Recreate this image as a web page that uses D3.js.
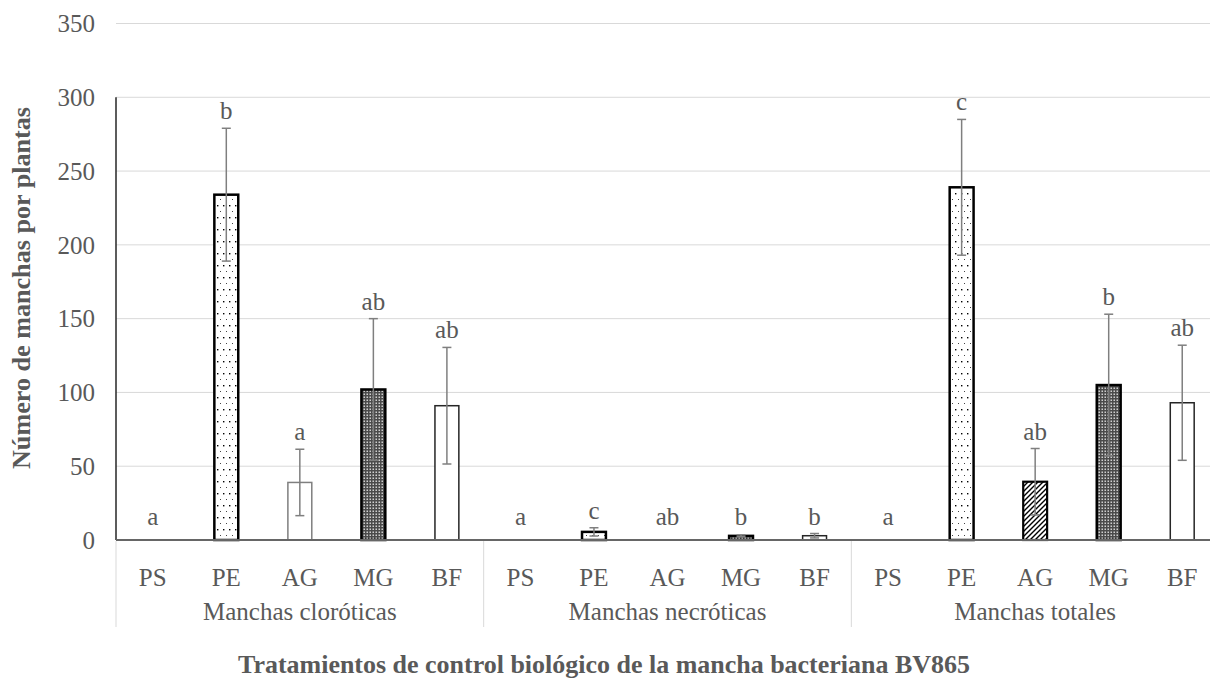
<!DOCTYPE html>
<html>
<head>
<meta charset="utf-8">
<script src="https://cdn.jsdelivr.net/npm/d3@7"></script>
<style>
  html, body { margin: 0; padding: 0; background: #fff; }
  svg { display: block; }
</style>
</head>
<body>
<svg id="chart" width="1210" height="679"></svg>
<script>
// ---------- DATA ----------
const groups = ["Manchas cloróticas", "Manchas necróticas", "Manchas totales"];
const treatments = ["PS", "PE", "AG", "MG", "BF"];
const cloroticas     = [0, 234, 39, 102, 91];
const cloroticasErr  = [0, 45, 22.5, 48, 39.5];
const necroticas     = [0, 5.5, 0, 2.8, 2.9];
const necroticasErr  = [0, 2.8, 0, 0.6, 1.5];
const totales        = [0, 239, 39.5, 105, 93];
const totalesErr     = [0, 46, 22.5, 48, 39];
const cloroticasLetters = ["a", "b", "a", "ab", "ab"];
const necroticasLetters = ["a", "c", "ab", "b", "b"];
const totalesLetters    = ["a", "c", "ab", "b", "ab"];
const yTicks = [0, 50, 100, 150, 200, 250, 300, 350];
const yTitle = "Número de manchas por plantas";
const xTitle = "Tratamientos de control biológico de la mancha bacteriana BV865";

// ---------- STYLES ----------
const groupStyles = [
  ["none", "dots", "plainGray", "dense", "plain"],
  ["none", "dots", "plainGray", "dense", "plain"],
  ["none", "dots", "hatch", "dense", "plain"]
];
const styleDefs = {
  none:      { fill: "none", stroke: "none", sw: 0 },
  dots:      { fill: "url(#pDots)", stroke: "#000", sw: 2.5 },
  plainGray: { fill: "#fff", stroke: "#7f7f7f", sw: 1.5 },
  dense:     { fill: "url(#pDense)", stroke: "#000", sw: 2.5 },
  hatch:     { fill: "url(#pHatch)", stroke: "#000", sw: 2.2 },
  plain:     { fill: "#fff", stroke: "#262626", sw: 1.5 }
};

const seriesVals = [cloroticas, necroticas, totales];
const seriesErr = [cloroticasErr, necroticasErr, totalesErr];
const seriesLetters = [cloroticasLetters, necroticasLetters, totalesLetters];

const rows = [];
groups.forEach((g, gi) => {
  treatments.forEach((t, ti) => {
    rows.push({
      key: gi + "-" + t, group: g, gi, t, ti,
      v: seriesVals[gi][ti], e: seriesErr[gi][ti],
      letter: seriesLetters[gi][ti], style: groupStyles[gi][ti]
    });
  });
});

// ---------- LAYOUT ----------
const svg = d3.select("#chart");
const plotLeft = 116, plotRight = 1219, plotTop = 23.5, plotBottom = 540;
const textColor = "#595959";
const font = "'Liberation Serif', 'Times New Roman', serif";
const fs = 25;

const x = d3.scaleBand().domain(rows.map(d => d.key)).range([plotLeft, plotRight]).padding(0);
const y = d3.scaleLinear().domain([0, 350]).range([plotBottom, plotTop]);
const barW = x.bandwidth() * 0.325;
const cx = d => x(d.key) + x.bandwidth() / 2;

// patterns
const defs = svg.append("defs");
const pd = defs.append("pattern").attr("id", "pDots").attr("patternUnits", "userSpaceOnUse")
  .attr("width", 6).attr("height", 12);
pd.append("rect").attr("width", 6).attr("height", 12).attr("fill", "#fff");
pd.append("rect").attr("x", 1).attr("y", 1).attr("width", 1.4).attr("height", 1.4).attr("fill", "#000");
pd.append("rect").attr("x", 4).attr("y", 7).attr("width", 1).attr("height", 1).attr("fill", "#444");

const pn = defs.append("pattern").attr("id", "pDense").attr("patternUnits", "userSpaceOnUse")
  .attr("width", 3).attr("height", 3);
pn.append("rect").attr("width", 3).attr("height", 3).attr("fill", "#4a4a4a");
pn.append("rect").attr("x", 0.5).attr("y", 0.5).attr("width", 1.5).attr("height", 1.5).attr("fill", "#cfcfcf");

const ph = defs.append("pattern").attr("id", "pHatch").attr("patternUnits", "userSpaceOnUse")
  .attr("width", 5).attr("height", 5);
ph.append("rect").attr("width", 5).attr("height", 5).attr("fill", "#fff");
ph.append("path").attr("d", "M-1,6 L6,-1 M-1,1 L1,-1 M4,6 L6,4")
  .attr("stroke", "#000").attr("stroke-width", 1.4);

// gridlines
svg.append("g").selectAll("line").data(yTicks.filter(t => t > 0)).join("line")
  .attr("x1", plotLeft).attr("x2", plotRight)
  .attr("y1", d => y(d)).attr("y2", d => y(d))
  .attr("stroke", "#d9d9d9").attr("stroke-width", 1);

// y tick labels
svg.append("g").selectAll("text").data(yTicks).join("text")
  .attr("x", 95).attr("y", d => y(d)).attr("dy", "0.35em")
  .attr("text-anchor", "end")
  .attr("font-family", font).attr("font-size", fs).attr("fill", textColor)
  .text(d => d);

// y axis line (0 to 300)
svg.append("line").attr("x1", plotLeft).attr("x2", plotLeft)
  .attr("y1", y(0)).attr("y2", y(300))
  .attr("stroke", "#262626").attr("stroke-width", 1.5);

// bars
svg.append("g").selectAll("rect").data(rows.filter(d => d.style !== "none")).join("rect")
  .attr("x", d => cx(d) - barW / 2)
  .attr("width", barW)
  .attr("y", d => y(d.v))
  .attr("height", d => y(0) - y(d.v))
  .attr("fill", d => styleDefs[d.style].fill)
  .attr("stroke", d => styleDefs[d.style].stroke)
  .attr("stroke-width", d => styleDefs[d.style].sw);

// x baseline
svg.append("line").attr("x1", plotLeft).attr("x2", plotRight)
  .attr("y1", y(0)).attr("y2", y(0))
  .attr("stroke", "#666").attr("stroke-width", 1.8);

// error bars
const eb = svg.append("g").attr("stroke", "#7f7f7f").attr("stroke-width", 1.5);
const ebRows = rows.filter(d => d.e > 0);
eb.selectAll("line.v").data(ebRows).join("line").attr("class", "v")
  .attr("x1", cx).attr("x2", cx)
  .attr("y1", d => y(d.v + d.e)).attr("y2", d => y(Math.max(0, d.v - d.e)));
eb.selectAll("line.t").data(ebRows).join("line").attr("class", "t")
  .attr("x1", d => cx(d) - 4.5).attr("x2", d => cx(d) + 4.5)
  .attr("y1", d => y(d.v + d.e)).attr("y2", d => y(d.v + d.e));
eb.selectAll("line.b").data(ebRows).join("line").attr("class", "b")
  .attr("x1", d => cx(d) - 4.5).attr("x2", d => cx(d) + 4.5)
  .attr("y1", d => y(Math.max(0, d.v - d.e))).attr("y2", d => y(Math.max(0, d.v - d.e)));

// letters
svg.append("g").selectAll("text").data(rows).join("text")
  .attr("x", cx)
  .attr("y", d => Math.min(y(d.v + d.e) - 9, y(0) - 15))
  .attr("text-anchor", "middle")
  .attr("font-family", font).attr("font-size", fs).attr("fill", textColor)
  .text(d => d.letter);

// category labels
svg.append("g").selectAll("text").data(rows).join("text")
  .attr("x", cx)
  .attr("y", 586)
  .attr("text-anchor", "middle")
  .attr("font-family", font).attr("font-size", fs).attr("fill", textColor)
  .text(d => d.t);

// group separators
const sepX = groups.map((g, gi) => x(gi + "-" + treatments[0]));
svg.append("g").selectAll("line").data(sepX).join("line")
  .attr("x1", d => d).attr("x2", d => d)
  .attr("y1", y(0) + 1).attr("y2", 627)
  .attr("stroke", "#d9d9d9").attr("stroke-width", 1);

// group labels
svg.append("g").selectAll("text").data(groups).join("text")
  .attr("x", (g, gi) => {
    const a = x(gi + "-" + treatments[0]);
    const b = x(gi + "-" + treatments[treatments.length - 1]) + x.bandwidth();
    return (a + b) / 2;
  })
  .attr("y", 620)
  .attr("text-anchor", "middle")
  .attr("font-family", font).attr("font-size", fs).attr("fill", textColor)
  .text(d => d);

// axis titles
svg.append("text")
  .attr("transform", "translate(30,288) rotate(-90)")
  .attr("text-anchor", "middle")
  .attr("font-family", font).attr("font-size", 26).attr("font-weight", "bold")
  .attr("fill", textColor)
  .attr("textLength", 362).attr("lengthAdjust", "spacingAndGlyphs")
  .text(yTitle);

svg.append("text")
  .attr("x", 604).attr("y", 673)
  .attr("text-anchor", "middle")
  .attr("font-family", font).attr("font-size", 26).attr("font-weight", "bold")
  .attr("fill", textColor)
  .attr("textLength", 732).attr("lengthAdjust", "spacingAndGlyphs")
  .text(xTitle);
</script>
</body>
</html>
